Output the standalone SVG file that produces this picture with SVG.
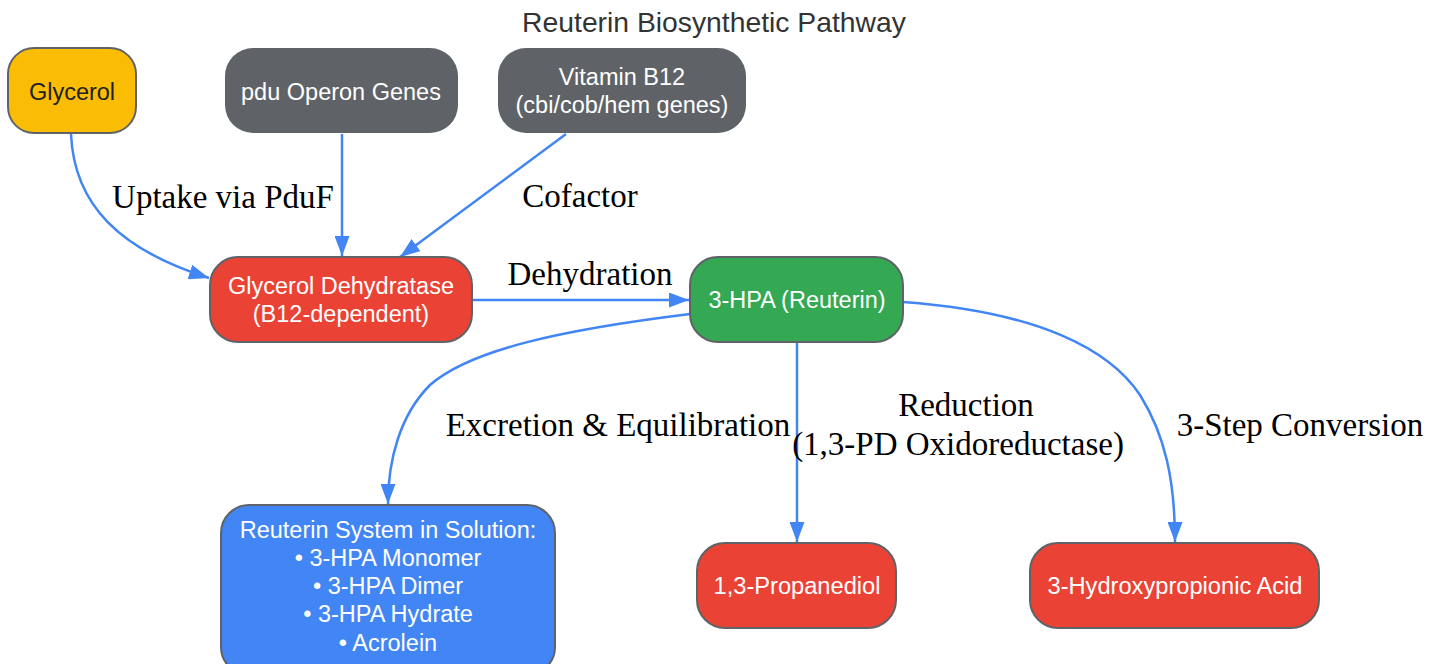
<svg xmlns="http://www.w3.org/2000/svg" width="1441" height="664" viewBox="0 0 1441 664">
<style>
.n{stroke:#5f6368;stroke-width:2}
.t{font-family:"Liberation Sans",Arial,sans-serif;font-size:23.5px;fill:#fff;text-anchor:middle}
.e{fill:none;stroke:#4285f4;stroke-width:2.5}
.l{font-family:"Liberation Serif","Times New Roman",serif;font-size:33px;fill:#000;text-anchor:middle}
</style>
<defs>
<marker id="a" viewBox="0 0 20 15" refX="20" refY="7.5" markerWidth="20" markerHeight="15" markerUnits="userSpaceOnUse" orient="auto">
<path d="M0,0 L20,7.5 L0,15 z" fill="#4285f4"/>
</marker>
</defs>
<rect width="1441" height="664" fill="#fff"/>
<text x="714" y="32" font-family="Liberation Sans,Arial,sans-serif" font-size="28.3" fill="#333" text-anchor="middle">Reuterin Biosynthetic Pathway</text>
<g id="edges">
<path class="e" d="M71,134 C74,205 120,250 209,278" marker-end="url(#a)"/>
<path class="e" d="M342,134 L342,256" marker-end="url(#a)"/>
<path class="e" d="M566,134 L400,257" marker-end="url(#a)"/>
<path class="e" d="M472,300 L689,300" marker-end="url(#a)"/>
<path class="e" d="M690,314 C560,330 470,350 430,385 C400,415 388,460 388,504" marker-end="url(#a)"/>
<path class="e" d="M797,342 L797,542" marker-end="url(#a)"/>
<path class="e" d="M903,302 C1040,312 1110,350 1140,395 C1165,435 1175,480 1175,542" marker-end="url(#a)"/>
</g>
<g id="labels">
<text class="l" x="223" y="208">Uptake via PduF</text>
<text class="l" x="580" y="207">Cofactor</text>
<text class="l" x="590" y="285">Dehydration</text>
<text class="l" x="618" y="436">Excretion &amp; Equilibration</text>
<text class="l" x="966" y="416">Reduction</text>
<text class="l" x="958" y="455">(1,3-PD Oxidoreductase)</text>
<text class="l" x="1300" y="436">3-Step Conversion</text>
</g>
<g id="glycerol"><rect class="n" x="8" y="48" width="128" height="85" rx="26" fill="#fbbc04"/><text class="t" x="72" y="100" style="fill:#202124">Glycerol</text></g>
<g id="pdu"><rect x="225" y="48" width="233" height="85" rx="28" fill="#5f6368"/><text class="t" x="341" y="100">pdu Operon Genes</text></g>
<g id="vitb12"><rect x="498" y="48" width="248" height="85" rx="28" fill="#5f6368"/><text class="t" x="622" y="85">Vitamin B12</text><text class="t" x="622" y="113">(cbi/cob/hem genes)</text></g>
<g id="gd"><rect class="n" x="210" y="257" width="262" height="85" rx="28" fill="#ea4335"/><text class="t" x="341" y="294">Glycerol Dehydratase</text><text class="t" x="341" y="322">(B12-dependent)</text></g>
<g id="hpa"><rect class="n" x="690" y="257" width="213" height="85" rx="28" fill="#34a853"/><text class="t" x="797" y="308">3-HPA (Reuterin)</text></g>
<g id="system"><rect class="n" x="221" y="505" width="334" height="170" rx="28" fill="#4285f4"/><text class="t" x="388" y="538">Reuterin System in Solution:</text><text class="t" x="388" y="566">• 3-HPA Monomer</text><text class="t" x="388" y="594">• 3-HPA Dimer</text><text class="t" x="388" y="622">• 3-HPA Hydrate</text><text class="t" x="388" y="651">• Acrolein</text></g>
<g id="pd"><rect class="n" x="697" y="543" width="199" height="85" rx="28" fill="#ea4335"/><text class="t" x="797" y="594" textLength="167" lengthAdjust="spacingAndGlyphs">1,3-Propanediol</text></g>
<g id="acid"><rect class="n" x="1030" y="543" width="289" height="85" rx="28" fill="#ea4335"/><text class="t" x="1175" y="594" textLength="255" lengthAdjust="spacingAndGlyphs">3-Hydroxypropionic Acid</text></g>
</svg>
